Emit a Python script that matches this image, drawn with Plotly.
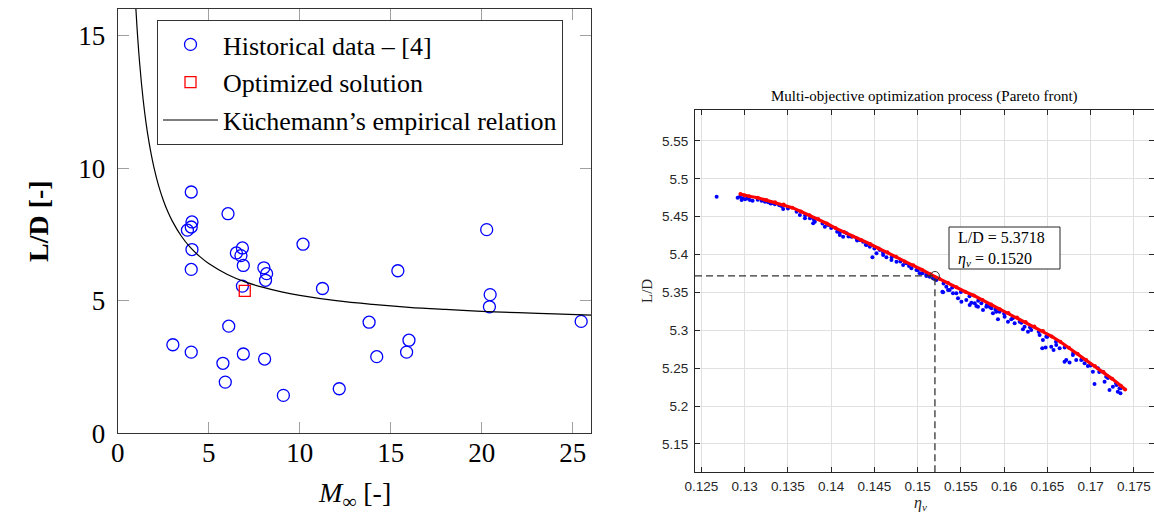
import plotly.graph_objects as go

W, H = 1154, 515

# ---------------- Left chart data ----------------
hist_mach = [4.04, 6.06, 4.08, 4.04, 3.83, 20.27, 10.18, 4.08, 6.85, 6.52, 6.77, 6.90,
             4.04, 8.03, 8.18, 8.12, 15.39, 11.25, 6.85, 20.46, 20.42, 25.46, 13.81,
             6.10, 3.03, 4.04, 6.90, 16.00, 15.87, 14.23, 5.78, 8.07, 5.91, 12.17, 9.10]
hist_ld = [9.10, 8.28, 7.97, 7.78, 7.66, 7.68, 7.13, 6.93, 6.99, 6.80, 6.70, 6.33,
           6.18, 6.24, 6.02, 5.77, 6.13, 5.46, 5.55, 5.23, 4.77, 4.22, 4.19,
           4.04, 3.34, 3.06, 2.99, 3.51, 3.06, 2.89, 2.64, 2.80, 1.93, 1.68, 1.43]
opt_mach = [6.98]
opt_ld = [5.37]
kuchemann_mach = [1.0, 1.05, 1.1, 1.2, 1.3, 1.4, 1.5, 1.65, 1.8, 2.0, 2.25, 2.5, 2.75, 3.0,
                  3.5, 4.0, 4.5, 5.0, 6.0, 7.0, 8.0, 9.0, 10, 12, 14, 16, 18, 20, 22, 24, 26]
kuchemann_ld = [16.0, 15.43, 14.91, 14.0, 13.23, 12.57, 12.0, 11.27, 10.67, 10.0, 9.33, 8.8,
                8.36, 8.0, 7.43, 7.0, 6.67, 6.4, 6.0, 5.71, 5.5, 5.33, 5.2, 5.0, 4.86, 4.75,
                4.67, 4.6, 4.55, 4.5, 4.46]
left_x_ticks = [0, 5, 10, 15, 20, 25]
left_y_ticks = [0, 5, 10, 15]
left_x_range = [0, 26]
left_y_range = [0, 16]

# ---------------- Right chart data (Pareto front) ----------------
red_eta = [0.1295, 0.1300, 0.1305, 0.1315, 0.1325, 0.1335, 0.1345, 0.1355, 0.1365, 0.1375,
           0.1385, 0.1395, 0.1405, 0.1415, 0.1425, 0.1435, 0.1445, 0.1455, 0.1465, 0.1475,
           0.1485, 0.1495, 0.1505, 0.1515, 0.1525, 0.1535, 0.1545, 0.1555, 0.1565, 0.1575,
           0.1585, 0.1595, 0.1605, 0.1615, 0.1625, 0.1635, 0.1645, 0.1655, 0.1665, 0.1675,
           0.1685, 0.1695, 0.1705, 0.1715, 0.1725, 0.1735, 0.1740]
red_ld = [5.480, 5.478, 5.477, 5.475, 5.472, 5.469, 5.466, 5.462, 5.457, 5.452,
          5.447, 5.441, 5.435, 5.430, 5.424, 5.419, 5.414, 5.408, 5.403, 5.397,
          5.391, 5.386, 5.380, 5.374, 5.368, 5.363, 5.357, 5.351, 5.346, 5.340,
          5.334, 5.328, 5.323, 5.317, 5.311, 5.305, 5.299, 5.292, 5.285, 5.277,
          5.269, 5.261, 5.253, 5.245, 5.236, 5.227, 5.222]

blue_eta = [0.12675, 0.12918, 0.12945, 0.12976, 0.13003, 0.13030, 0.13060, 0.13091, 0.12964, 0.13041,
            0.13195, 0.13234, 0.13272, 0.13311, 0.13349, 0.13426, 0.13445, 0.13638, 0.13696, 0.13754,
            0.13811, 0.13792, 0.13927, 0.13965, 0.14069, 0.14100, 0.14138, 0.14177, 0.14235, 0.14293,
            0.14331, 0.14369, 0.14408, 0.14447, 0.14477, 0.14524, 0.14562, 0.14601, 0.14639, 0.14697,
            0.14755, 0.14832, 0.14870, 0.14928, 0.14986, 0.15024, 0.15055, 0.15101, 0.15140, 0.15178,
            0.15217, 0.15286, 0.15332, 0.15371, 0.15448, 0.15506, 0.15563, 0.15602, 0.15660, 0.15698,
            0.15756, 0.15833, 0.15871, 0.15910,
            0.15294, 0.15352, 0.15409, 0.15467, 0.15621, 0.15679, 0.15737, 0.15794, 0.15852, 0.15929,
            0.15948, 0.16006, 0.16045, 0.16083, 0.16122, 0.16180, 0.16218, 0.16237, 0.16276, 0.16314,
            0.16411, 0.16449, 0.16488, 0.16441, 0.16480, 0.16545, 0.16572, 0.16603, 0.16642, 0.16699,
            0.16719, 0.16757, 0.16796, 0.16834, 0.16892, 0.16931, 0.16969, 0.17027, 0.17046, 0.17085,
            0.17142, 0.17162, 0.17181, 0.17219, 0.17258, 0.17296, 0.17315, 0.17335, 0.17346,
            0.1315, 0.1330, 0.1340, 0.1350, 0.1360, 0.1370, 0.1380, 0.1390, 0.1400, 0.1410,
            0.1420, 0.1430, 0.1440, 0.1450, 0.1460, 0.1470, 0.1480, 0.1490, 0.1500, 0.1510,
            0.1520, 0.1530, 0.1540, 0.1550, 0.1560, 0.1570, 0.1580, 0.1590, 0.1600, 0.1610,
            0.1620, 0.1630, 0.1640, 0.1650, 0.1660, 0.1670, 0.1680, 0.1690, 0.1700, 0.1710,
            0.1720, 0.1730, 0.1735]
blue_ld = [5.4765, 5.4752, 5.4765, 5.4743, 5.4730, 5.4739, 5.4721, 5.4712, 5.4721, 5.4756,
           5.4712, 5.4699, 5.4690, 5.4677, 5.4664, 5.4642, 5.4602, 5.4523, 5.4479, 5.4479,
           5.4435, 5.4413, 5.4369, 5.4391, 5.4303, 5.4259, 5.4237, 5.4281, 5.4237, 5.4215,
           5.4193, 5.4171, 5.4127, 5.4105, 5.3964, 5.4017, 5.4061, 5.3995, 5.3964, 5.3929,
           5.3907, 5.3863, 5.3885, 5.3819, 5.3797, 5.3753, 5.3753, 5.3718, 5.3709, 5.3687,
           5.3665, 5.3511, 5.3577, 5.3533, 5.3489, 5.3379, 5.3401, 5.3335, 5.3357, 5.3313,
           5.3269, 5.3313, 5.3225, 5.3247,
           5.3502, 5.3533, 5.3489, 5.3423, 5.3366, 5.3322, 5.3357, 5.3313, 5.3291, 5.3146,
           5.3247, 5.3181, 5.3115, 5.3146, 5.3093, 5.3115, 5.3014, 5.3049, 5.2983, 5.3005,
           5.2939, 5.2873, 5.2917, 5.2763, 5.2772, 5.2785, 5.2741, 5.2807, 5.2763, 5.2587,
           5.2609, 5.2574, 5.2675, 5.2609, 5.2609, 5.2565, 5.2530, 5.2455, 5.2292, 5.2499,
           5.2455, 5.2323, 5.2389, 5.2213, 5.2257, 5.2301, 5.2191, 5.2235, 5.2169,
           5.4725, 5.4675, 5.4650, 5.4610, 5.4565, 5.4520, 5.4465, 5.4410, 5.4350, 5.4295,
           5.4240, 5.4185, 5.4130, 5.4080, 5.4025, 5.3965, 5.3910, 5.3850, 5.3795, 5.3735,
           5.3680, 5.3620, 5.3565, 5.3505, 5.3450, 5.3390, 5.3335, 5.3275, 5.3220, 5.3160,
           5.3100, 5.3040, 5.2980, 5.2915, 5.2850, 5.2775, 5.2700, 5.2615, 5.2535, 5.2450,
           5.2370, 5.2280, 5.2235]

sel_eta = 0.1520
sel_ld = 5.3718

eta_ticks = [0.125, 0.13, 0.135, 0.14, 0.145, 0.15, 0.155, 0.16, 0.165, 0.17, 0.175]
eta_tick_labels = ["0.125", "0.13", "0.135", "0.14", "0.145", "0.15", "0.155", "0.16",
                   "0.165", "0.17", "0.175"]
ld_ticks = [5.15, 5.2, 5.25, 5.3, 5.35, 5.4, 5.45, 5.5, 5.55]
ld_tick_labels = ["5.15", "5.2", "5.25", "5.3", "5.35", "5.4", "5.45", "5.5", "5.55"]
eta_range = [0.12425, 0.17728]
ld_range = [5.1126, 5.5909]


def px(x):
    return x / W


def py(y):
    return 1 - y / H


SERIF = "Liberation Serif"
SANS = "Liberation Sans"

fig = go.Figure()

# Left chart traces
fig.add_trace(go.Scatter(
    x=hist_mach, y=hist_ld, mode="markers", name="Historical data – [4]",
    legendgroup="g1", xaxis="x", yaxis="y",
    marker=dict(symbol="circle-open", size=12, color="#0000ff", line=dict(width=1.3, color="#0000ff"))))
fig.add_trace(go.Scatter(
    x=opt_mach, y=opt_ld, mode="markers", name="Optimized solution",
    legendgroup="g2", xaxis="x", yaxis="y",
    marker=dict(symbol="square-open", size=11, color="#ff0000", line=dict(width=1.3, color="#ff0000"))))
fig.add_trace(go.Scatter(
    x=kuchemann_mach, y=kuchemann_ld, mode="lines", name="Küchemann’s empirical relation",
    legendgroup="g3", xaxis="x", yaxis="y",
    line=dict(color="black", width=1.2, shape="spline")))

# Right chart traces
fig.add_trace(go.Scatter(
    x=blue_eta, y=blue_ld, mode="markers", showlegend=False, xaxis="x2", yaxis="y2",
    marker=dict(size=4, color="#0000ff")))
fig.add_trace(go.Scatter(
    x=red_eta, y=red_ld, mode="lines+markers", showlegend=False, xaxis="x2", yaxis="y2",
    line=dict(color="#ff0000", width=3.2), marker=dict(size=4, color="#ff0000")))
fig.add_trace(go.Scatter(
    x=[sel_eta], y=[sel_ld], mode="markers", showlegend=False, xaxis="x2", yaxis="y2",
    marker=dict(symbol="circle-open", size=9, color="#333333", line=dict(width=1))))

left_axis_common = dict(
    ticks="inside", ticklen=11, tickwidth=1, tickcolor="#a0a0a0",
    showline=True, linecolor="#333333", linewidth=1, mirror="allticks",
    showgrid=False, zeroline=False, automargin=False,
    tickfont=dict(family=SERIF, size=27, color="black"),
)
right_axis_common = dict(
    ticks="inside", ticklen=5, tickwidth=1, tickcolor="#262626",
    showline=True, linecolor="#262626", linewidth=1, mirror="allticks",
    showgrid=True, gridcolor="#e0e0e0", gridwidth=1, zeroline=False, automargin=False,
    tickfont=dict(family=SANS, size=13.5, color="#262626"),
)


def label(text, x, y, size, angle=0, color="black", xanchor="center"):
    return dict(text=text, x=px(x), y=py(y), xref="paper", yref="paper",
                xanchor=xanchor, yanchor="middle", textangle=angle, showarrow=False,
                font=dict(family=SERIF, size=size, color=color))


fig.update_layout(
    width=W, height=H,
    margin=dict(l=0, r=0, t=0, b=0, pad=0),
    paper_bgcolor="white", plot_bgcolor="white",
    xaxis=dict(domain=[px(117.7), px(591)], range=left_x_range, tickvals=left_x_ticks,
               anchor="y", ticklabelstandoff=-5, **left_axis_common),
    yaxis=dict(domain=[py(433.3), py(9)], range=left_y_range, tickvals=left_y_ticks,
               anchor="x", ticklabelstandoff=6, **left_axis_common),
    xaxis2=dict(domain=[px(695), px(1153.5)], range=eta_range, tickvals=eta_ticks,
                ticktext=eta_tick_labels, anchor="y2", ticklabelstandoff=1, **right_axis_common),
    yaxis2=dict(domain=[py(472.3), py(110)], range=ld_range, tickvals=ld_ticks,
                ticktext=ld_tick_labels, anchor="x2", ticklabelstandoff=3, **right_axis_common),
    showlegend=True,
    legend=dict(x=px(157), y=py(20), xanchor="left", yanchor="top",
                bgcolor="white", bordercolor="#333333", borderwidth=1,
                font=dict(family=SERIF, size=26, color="black"),
                tracegroupgap=1, itemwidth=55),
    shapes=[
        dict(type="line", xref="x2", yref="y2", x0=eta_range[0], x1=sel_eta, y0=sel_ld, y1=sel_ld,
             line=dict(color="#333333", width=1.3, dash="7px,4px")),
        dict(type="line", xref="x2", yref="y2", x0=sel_eta, x1=sel_eta, y0=ld_range[0], y1=sel_ld,
             line=dict(color="#333333", width=1.3, dash="7px,4px")),
        dict(type="rect", xref="paper", yref="paper", x0=px(949), x1=px(1060), y0=py(269), y1=py(227),
             fillcolor="white", line=dict(color="#262626", width=1)),
    ],
    annotations=[
        label("<b>L/D [-]</b>", 38, 221, 28, angle=-90),
        label("<i>M</i><sub>∞</sub> [-]", 354, 494, 28),
        label("Multi-objective optimization process (Pareto front)", 924.5, 97, 15),
        label("L/D", 647, 291, 15, angle=-90, color="#262626"),
        label("<i>η</i><sub><i>ν</i></sub>", 920, 503, 16, color="#262626"),
        label("L/D = 5.3718", 956, 237.5, 16, xanchor="left"),
        label("<i>η</i><sub><i>ν</i></sub> = 0.1520", 956, 259.5, 16, xanchor="left"),
    ],
)

fig.write_html("out.html",
               config={"displayModeBar": False},
               post_script="document.body.style.margin='0';document.body.style.overflow='hidden';")
